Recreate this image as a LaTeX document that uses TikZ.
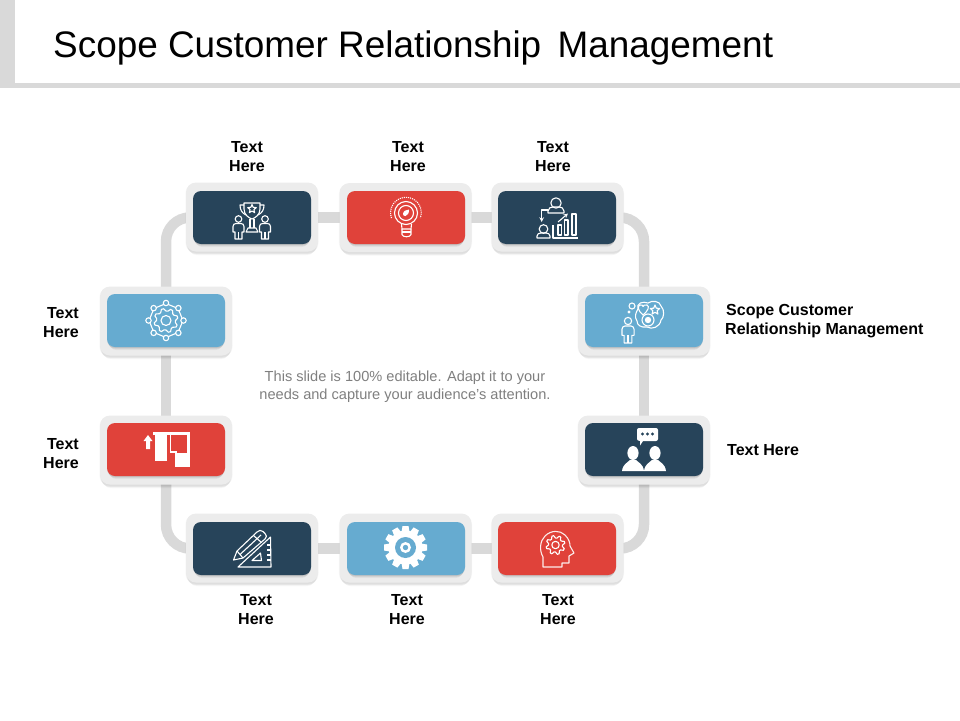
\documentclass[tikz,border=0pt]{standalone}
\usepackage{fontspec}
\setmainfont{Liberation Sans}
\usetikzlibrary{shadows,backgrounds}
\definecolor{navy}{HTML}{27445A}
\definecolor{tomato}{HTML}{E0423A}
\definecolor{sky}{HTML}{66ABD0}
\definecolor{band}{HTML}{D9D9D9}
\definecolor{cardgray}{HTML}{ECECEC}
\definecolor{bodygray}{HTML}{7F7F7F}
\tikzset{
  x=1pt,y=-1pt,
  outercard/.style={draw=none,fill=cardgray,rounded corners=10pt,minimum width=132pt,minimum height=69pt,inner sep=0pt,
    general shadow={fill=black,fill opacity=.025,shadow yshift=-1pt,shadow scale=1.01},
    general shadow={fill=black,fill opacity=.03,shadow yshift=-2pt,shadow scale=1},
    general shadow={fill=black,fill opacity=.03,shadow yshift=-3pt,shadow scale=.99},
    general shadow={fill=black,fill opacity=.03,shadow yshift=-4pt,shadow scale=.98},
    general shadow={fill=black,fill opacity=.02,shadow yshift=-5pt,shadow scale=.97}},
  innercard/.style={draw=none,rounded corners=8pt,minimum width=118pt,minimum height=53pt,inner sep=0pt,
    general shadow={fill=black,fill opacity=.05,shadow yshift=-1pt,shadow scale=1},
    general shadow={fill=black,fill opacity=.05,shadow yshift=-2pt,shadow scale=.99},
    general shadow={fill=black,fill opacity=.04,shadow yshift=-3pt,shadow scale=.98},
    general shadow={fill=black,fill opacity=.03,shadow yshift=-4pt,shadow scale=.97}},
  conn/.style={draw=band,line width=10.5pt},
  corner/.style={conn,rounded corners=24pt},
  icon/.style={draw=white,line width=1.1pt,fill=none,line join=round},
  solid icon/.style={fill=white,draw=none},
  lab/.style={font=\bfseries\fontsize{16}{19}\selectfont,text=black,inner sep=0pt,align=center},
  labr/.style={lab,align=right,anchor=east},
  labl/.style={lab,align=left,anchor=west},
}
\newcommand{\personicon}[3]{%
  \begin{scope}[shift={(#1,#2)},scale=#3]
    \draw[icon] (0,0) circle[radius=3.3];
    \draw[icon] (-5.5,13) -- (-5.5,7.5) .. controls (-5.5,5.5) and (-4,4.5) .. (-2.5,4.5) -- (2.5,4.5) .. controls (4,4.5) and (5.5,5.5) .. (5.5,7.5) -- (5.5,13) -- (3.5,13) -- (3.5,20) -- (-3.5,20) -- (-3.5,13) -- cycle;
    \draw[icon] (0,13) -- (0,20);
  \end{scope}}
\newcommand{\staricon}[3]{%
  \draw[icon,shift={(#1,#2)}] plot[samples at={0,...,9},variable=\k] ({(mod(\k,2)==0?#3:0.45*#3)*cos(-90+36*\k)},{(mod(\k,2)==0?#3:0.45*#3)*sin(-90+36*\k)}) -- cycle;}
\newcommand{\gearicon}[5]{%
  \draw[icon,shift={(#1,#2)}] plot[samples at={0,...,\numexpr4*#5-1\relax},variable=\k] ({(mod(\k,4)<2?#3:#4)*cos(\k*90/#5)},{(mod(\k,4)<2?#3:#4)*sin(\k*90/#5)}) -- cycle;}
\newcommand{\bust}[2]{%
  \fill[solid icon] (#1,#2) ellipse[x radius=5.6,y radius=7];
  \fill[solid icon] ({#1-11},{#2+18}) .. controls ({#1-10},{#2+11}) and ({#1-6},{#2+10}) .. ({#1-3},{#2+7}) -- ({#1+3},{#2+7}) .. controls ({#1+6},{#2+10}) and ({#1+10},{#2+11}) .. ({#1+11},{#2+18}) -- cycle;}
\begin{document}
\begin{tikzpicture}
\useasboundingbox (0,0) rectangle (960,720);
% header
\fill[band] (0,0) rectangle (15,88);
\fill[band] (0,83) rectangle (960,88);
\node[anchor=west,inner sep=0pt,font=\fontsize{36.9}{40}\selectfont,text=black] (title) at (53,48) {Scope Customer Relationship\, Management};
% cards
\node[outercard] (ot1) at (252,217) {};
\node[outercard] (ot2) at (405.5,217.5) {};
\node[outercard] (ot3) at (557.5,217) {};
\node[outercard] (ol1) at (166,321) {};
\node[outercard] (ol2) at (166,450) {};
\node[outercard] (or1) at (644,321) {};
\node[outercard] (or2) at (644,450) {};
\node[outercard] (ob1) at (252,548) {};
\node[outercard] (ob2) at (405.5,548) {};
\node[outercard] (ob3) at (557.5,548) {};
\node[innercard,fill=navy] (t1) at (252,217.5) {};
\node[innercard,fill=tomato] (t2) at (406,217.5) {};
\node[innercard,fill=navy] (t3) at (557,217.5) {};
\node[innercard,fill=sky] (l1) at (166,320.5) {};
\node[innercard,fill=tomato] (l2) at (166,449.5) {};
\node[innercard,fill=sky] (r1) at (644,320.5) {};
\node[innercard,fill=navy] (r2) at (644,449.5) {};
\node[innercard,fill=navy] (b1) at (252,548.5) {};
\node[innercard,fill=sky] (b2) at (406,548.5) {};
\node[innercard,fill=tomato] (b3) at (557,548.5) {};
% connectors
\begin{pgfonlayer}{background}
\draw[conn] (t1.center) -- (t2.center);
\draw[conn] (t2.center) -- (t3.center);
\draw[corner] (t1.center) -| (l1.center);
\draw[conn] (l1.center) -- (l2.center);
\draw[corner] (l2.center) |- (b1.center);
\draw[conn] (b1.center) -- (b2.center);
\draw[conn] (b2.center) -- (b3.center);
\draw[corner] (b3.center) -| (r2.center);
\draw[conn] (r2.center) -- (r1.center);
\draw[corner] (r1.center) |- (t3.center);
\end{pgfonlayer}
% trophy icon
\draw[icon] (244,203) -- (260,203) -- (260,209) .. controls (260,215) and (255,218) .. (252,219) .. controls (249,218) and (244,215) .. (244,209) -- cycle;
\draw[icon] (244,205) -- (240,205) .. controls (240,210) and (242,213) .. (246,215);
\draw[icon] (260,205) -- (264,205) .. controls (264,210) and (262,213) .. (258,215);
\staricon{252}{209}{4.5}
\draw[icon] (250,219) -- (250,228) (254,219) -- (254,228);
\draw[icon] (248,228) -- (256,228) -- (258,232) -- (246,232) -- cycle;
\personicon{238.5}{219}{1}
\personicon{265}{219}{1}
% bulb icon
\draw[icon] (406,213) circle[radius=11.5];
\draw[icon] (406,213) circle[radius=7.5];
\draw[icon,densely dotted] (391.5,218) arc[start angle=160,end angle=380,radius=15.4];
\draw[icon] (401.5,224) -- (402,229) -- (411,229) -- (411.5,224);
\draw[icon] (402,229) -- (402,234.5) .. controls (402.5,237.5) and (410.5,237.5) .. (411,234.5) -- (411,229);
\draw[icon] (402,232) -- (411,232);
\fill[solid icon] (403,214) .. controls (403,211) and (406.5,209.5) .. (409,209.5) .. controls (409,213) and (408,215.5) .. (405.5,216) .. controls (404,216) and (403,215.5) .. (403,214) -- cycle;
% growth icon
\draw[icon] (556,203) circle[radius=5.2];
\draw[icon] (548,213) -- (548,211) .. controls (548,208) and (551,207) .. (553,207) -- (559,207) .. controls (561,207) and (564,208) .. (564,211) -- (564,213) -- cycle;
\draw[icon,-stealth] (548,210) -- (541.7,210) -- (541.7,222);
\draw[icon] (543.5,229) circle[radius=4.3];
\draw[icon] (537,238) -- (537,236) .. controls (537,234) and (539,233) .. (541,233) -- (546,233) .. controls (548,233) and (550,234) .. (550,236) -- (550,238) -- cycle;
\draw[icon] (553,225) -- (553,238) -- (578,238);
\draw[icon] (558,225) rectangle (561.5,235);
\draw[icon] (564.5,220) rectangle (568,235);
\draw[icon] (572,214) rectangle (576,235);
\draw[icon,-stealth] (558,222) -- (568,213.5);
% network icon
\draw[icon] (166,320.5) circle[radius=5];
\gearicon{166}{320.5}{9.5}{12}{8}
\draw[icon,shift={(166,320.5)}] plot[samples at={0,45,...,315},variable=\a] ({17*cos(\a+90)},{17*sin(\a+90)}) -- cycle;
\foreach \a in {0,45,...,315}{
  \filldraw[draw=white,fill=sky,line width=1.1pt] ({166+17.5*cos(\a+90)},{320.5+17.5*sin(\a+90)}) circle[radius=2.7];
}
% bars icon
\fill[solid icon] (153,432) rectangle (190,435);
\fill[solid icon] (155,434) rectangle (167,461);
\draw[white,line width=1.3pt] (170.5,435) -- (170.5,452) -- (177,452);
\fill[solid icon] (175,453) rectangle (187,467);
\fill[solid icon] (187,434) rectangle (190,467);
\fill[solid icon] (148,435) -- (143.5,441) -- (146,441) -- (146,449) -- (150,449) -- (150,441) -- (152.5,441) -- cycle;
% thinker icon
\personicon{628}{321}{1.1}
\draw[icon] (632,306) circle[radius=3];
\fill[solid icon] (629,312) circle[radius=1.7];
\draw[icon] (638,309) .. controls (636,303) and (643,301) .. (648,303) .. controls (652,300) and (660,301) .. (661,306) .. controls (665,310) and (664,318) .. (661,320) .. controls (660,327) and (652,330) .. (647,327) .. controls (641,328) and (637,325) .. (637,321) .. controls (634,317) and (636,312) .. (638,309) -- cycle;
\draw[icon] (643,315) .. controls (638,311) and (637,306) .. (640,305) .. controls (642,304) and (643,306) .. (643,306.5) .. controls (643,306) and (645,304) .. (647,305) .. controls (650,306) and (648,311) .. (643,315) -- cycle;
\staricon{655}{310}{5}
\draw[icon] (648,320) circle[radius=6];
\fill[solid icon] (648,320) circle[radius=3.2];
% people with bubble icon
\fill[solid icon] (639,428) -- (656,428) .. controls (657,428) and (658,429) .. (658,430) -- (658,439) .. controls (658,440) and (657,441) .. (656,441) -- (643,441) -- (640,445.5) -- (640,441) .. controls (638,441) and (637,440) .. (637,439) -- (637,430) .. controls (637,429) and (638,428) .. (639,428) -- cycle;
\foreach \xx in {642.5,647.5,652.5}{\fill[navy] (\xx,434) circle[radius=1.7];}
\bust{633}{453}
\bust{655}{453}
% pencil and ruler icon
\draw[icon] (270.5,537) -- (238,567) -- (271,567) -- cycle;
\draw[icon] (260.5,553) -- (252,560.5) -- (261.5,560.5) -- cycle;
\draw[icon] (267,545) -- (270.5,545) (267,550) -- (270.5,550) (267,555) -- (270.5,555) (267,560) -- (270.5,560);
\draw[icon] (233.5,560) -- (237,551) -- (257,532) .. controls (259,530) and (261,530) .. (263,531.5) -- (265,533.5) .. controls (267,535.5) and (267,537) .. (265,539) -- (243,558) -- cycle;
\draw[icon] (237,551) -- (243,558) (240,554.5) -- (261,535) (253.5,535.5) -- (261.5,542.5);
% gear icon
\foreach \a in {0,30,...,330}{
  \fill[solid icon,rotate around={\a:(405.5,547.5)}] (402.5,526) -- (408.5,526) -- (410,535) -- (401,535) -- cycle;
}
\fill[solid icon] (405.5,547.5) circle[radius=17];
\fill[sky] (405.5,547.5) circle[radius=10.5];
\fill[solid icon] (405.5,547.5) circle[radius=5.5];
\fill[sky] (405.5,547.5) circle[radius=2.7];
% head icon
\draw[icon,draw=white!90!tomato] (543,567) -- (543,557) .. controls (539,550) and (540,541) .. (545,536) .. controls (551,530) and (560,530) .. (565,535) .. controls (569,539) and (570,543) .. (570,546) -- (574,553) -- (569,556) -- (569,563) -- (562,563) -- (562,567) -- cycle;
\gearicon{555.5}{545}{7}{9.5}{8}
\draw[icon] (555.5,545) circle[radius=3.7];
% labels
\node[lab] (lt1) at (247,156.5) {Text\\Here};
\node[lab] (lt2) at (408,156.5) {Text\\Here};
\node[lab] (lt3) at (553,156.5) {Text\\Here};
\node[labr] (ll1) at (79,322.5) {Text\\Here};
\node[labr] (ll2) at (79,453.5) {Text\\Here};
\node[labl] (lr1) at (725,321.5) {\hspace*{1pt}Scope Customer\\Relationship Management};
\node[labl] (lr2) at (727,450) {Text Here};
\node[lab] (lb1) at (256,609.5) {Text\\Here};
\node[lab] (lb2) at (407,609.5) {Text\\Here};
\node[lab] (lb3) at (558,609.5) {Text\\Here};
\node[inner sep=0pt,align=center,text=bodygray,font=\fontsize{14.6}{18}\selectfont] (body) at (405,387) {This slide is 100\% editable. Adapt it to your\\needs and capture your audience's attention.};
\end{tikzpicture}
\end{document}
